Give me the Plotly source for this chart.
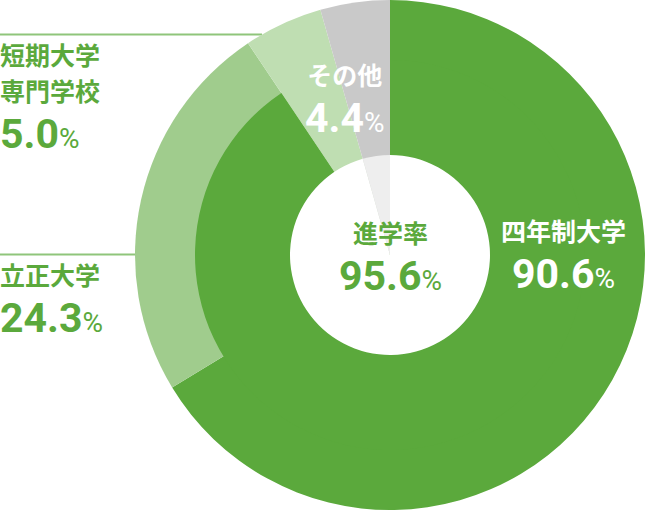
import plotly.graph_objects as go

# ---- data ----
outer_labels = ["四年制大学（立正大学以外）", "立正大学", "短期大学・専門学校", "その他"]
four_year_total = 90.6
rissho = 24.3
junior = 5.0
other = 4.4
advance_rate = 95.6

W, H = 645, 510
CX, CY = 390, 255
R_OUT, R_MID, R_IN = 255, 195, 100

DARK = "#5ba93c"
RISSHO_C = "#a0cc8d"
JUNIOR_C = "#bfdeb2"
GRAY = "#c9c9c9"
LIGHTGRAY = "#eeeeee"
TEXT_G = "#5ba93c"
LINE_C = "#8fc57b"
FONT = "Noto Sans CJK JP"


def dom(r):
    return dict(x=[(CX - r) / W, (CX + r) / W], y=[1 - (CY + r) / H, 1 - (CY - r) / H])


fig = go.Figure()
# outer ring
fig.add_trace(go.Pie(
    labels=outer_labels,
    values=[four_year_total - rissho, rissho, junior, other],
    marker=dict(colors=[DARK, RISSHO_C, JUNIOR_C, GRAY], line=dict(width=0)),
    sort=False, direction="clockwise", rotation=0, textinfo="none",
    hoverinfo="skip", domain=dom(R_OUT), showlegend=False,
))
# inner band of four-year universities
fig.add_trace(go.Pie(
    labels=["四年制大学", "rest"],
    values=[four_year_total, 100 - four_year_total],
    marker=dict(colors=[DARK, "rgba(0,0,0,0)"], line=dict(width=0)),
    sort=False, direction="clockwise", rotation=0, textinfo="none",
    hoverinfo="skip", domain=dom(R_MID), showlegend=False,
))
# center
fig.add_trace(go.Pie(
    labels=["進学率", "その他"],
    values=[advance_rate, 100 - advance_rate],
    marker=dict(colors=["#ffffff", LIGHTGRAY], line=dict(width=0)),
    sort=False, direction="clockwise", rotation=0, textinfo="none",
    hoverinfo="skip", domain=dom(R_IN), showlegend=False,
))


def ann(text, px, py, color, size=36, xanchor="center", align="center"):
    fig.add_annotation(
        text=text, x=px / W, y=1 - py / H, xref="paper", yref="paper",
        xanchor=xanchor, yanchor="middle", showarrow=False, align=align,
        font=dict(family=FONT, size=size, color=color, weight="bold"),
    )


def group(label, v):
    return (f"<span style='font-size:25px'>{label}</span><br>"
            f"<span style='font-family:Roboto;font-size:41px;font-weight:700'>{v:.1f}</span>"
            f"<span style='font-family:Roboto;font-size:28px;font-weight:400'>%</span>")


# left labels
ann("短期大学", -2, 54, TEXT_G, 25, "left", "left")
ann(group("専門学校", junior), -2, 115.5, TEXT_G, 36, "left", "left")
ann(group("立正大学", rissho), -2, 299, TEXT_G, 36, "left", "left")
# in-chart labels
ann(group("その他", other), 345, 99.5, "#ffffff")
ann(group("進学率", advance_rate), 390, 256.5, TEXT_G)
ann(group("四年制大学", four_year_total), 563, 255, "#ffffff")

# leader lines
fig.add_shape(type="line", xref="paper", yref="paper", x0=0, x1=262 / W,
              y0=1 - 34.5 / H, y1=1 - 34.5 / H, line=dict(color=LINE_C, width=2), layer="below")
fig.add_shape(type="line", xref="paper", yref="paper", x0=0, x1=136 / W,
              y0=1 - 254.5 / H, y1=1 - 254.5 / H, line=dict(color=LINE_C, width=2), layer="below")

fig.update_layout(
    width=W, height=H, margin=dict(l=0, r=0, t=0, b=0),
    paper_bgcolor="#ffffff", plot_bgcolor="#ffffff",
    font=dict(family=FONT),
)
fig.write_html("out.html", config={"displayModeBar": False},
               post_script="document.body.style.margin='0';document.body.style.overflow='hidden';")
